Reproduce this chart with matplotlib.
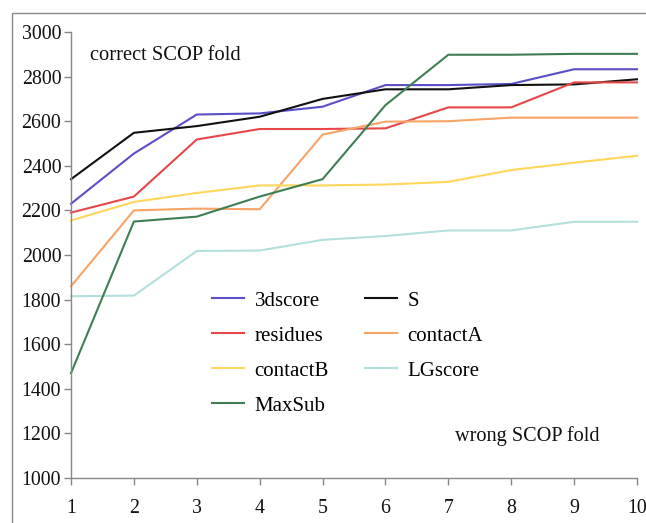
import matplotlib
matplotlib.use("Agg")
import matplotlib.pyplot as plt
from matplotlib.patches import Rectangle

x = [1, 2, 3, 4, 5, 6, 7, 8, 9, 10]
score_3d = [2230, 2455, 2630, 2635, 2665, 2762, 2762, 2767, 2833, 2833]
score_S = [2340, 2548, 2578, 2620, 2700, 2743, 2743, 2762, 2765, 2788]
residues = [2190, 2262, 2518, 2565, 2565, 2568, 2662, 2662, 2774, 2774]
contactA = [1860, 2200, 2208, 2205, 2540, 2598, 2600, 2616, 2616, 2616]
contactB = [2155, 2238, 2278, 2312, 2312, 2316, 2328, 2381, 2414, 2445]
lgscore = [1815, 1818, 2018, 2020, 2068, 2085, 2110, 2110, 2149, 2149]
maxsub = [1470, 2150, 2172, 2262, 2340, 2672, 2898, 2898, 2902, 2902]

series = [
    ("3dscore", score_3d, "#5a4fc8"),
    ("S", score_S, "#111111"),
    ("residues", residues, "#e8474a"),
    ("contactA", contactA, "#f7a466"),
    ("contactB", contactB, "#ffd75a"),
    ("LGscore", lgscore, "#b3e0dc"),
    ("MaxSub", maxsub, "#3f7e55"),
]

plt.rcParams['font.family'] = ['Liberation Serif', 'DejaVu Serif']

W, H = 646, 523
fig = plt.figure(figsize=(W / 100, H / 100), dpi=100)
fig.patch.set_facecolor("white")
fig.patches.append(Rectangle((12 / W, -0.1), 1.2, 1 - 13 / H + 0.1, transform=fig.transFigure,
                             fill=False, edgecolor="#8a8a8a", linewidth=1.0))

ax = fig.add_axes([71 / W, 1 - 478 / H, (637 - 71) / W, (478 - 32) / H])
for name, vals, col in series:
    ax.plot(x, vals, color=col, linewidth=1.5, label=name, clip_on=False)

ax.set_xlim(1, 10)
ax.set_ylim(1000, 3000)
ax.set_xticks(x)
ax.set_yticks(range(1000, 3001, 200))
for s in ["top", "right"]:
    ax.spines[s].set_visible(False)
for s in ["left", "bottom"]:
    ax.spines[s].set_color("#888888")
    ax.spines[s].set_linewidth(1.0)
ax.tick_params(axis="both", colors="#888888", length=5, width=1.0, labelcolor="#111111",
               labelsize=14.3)
ax.tick_params(axis="x", pad=10)
ax.tick_params(axis="y", pad=2)

ax.text(90 / W, 1 - 55 / H, "correct SCOP fold", transform=fig.transFigure, fontsize=14.8,
        va="center", ha="left", color="#111111")
ax.text(455 / W, 1 - 436 / H, "wrong SCOP fold", transform=fig.transFigure, fontsize=14.6,
        va="center", ha="left", color="#111111")

handles, labels = ax.get_legend_handles_labels()
order = [0, 2, 4, 6, 1, 3, 5]
fig.legend([handles[i] for i in order], [labels[i] for i in order], ncol=2, loc="upper left",
           bbox_to_anchor=(212 / W, 1 - 291 / H),
           frameon=False, fontsize=15, handlelength=1.55, handletextpad=0.5,
           columnspacing=1.7, labelspacing=0.74, borderpad=0, borderaxespad=0)

fig.savefig("out.png", dpi=100)
